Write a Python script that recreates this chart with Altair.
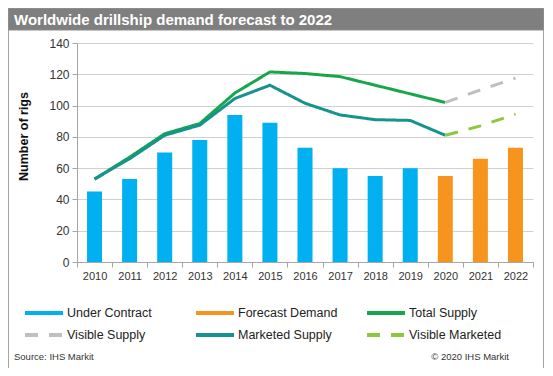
import altair as alt
import pandas as pd

# ---- data ----
years = ["2010", "2011", "2012", "2013", "2014", "2015", "2016",
         "2017", "2018", "2019", "2020", "2021", "2022"]

contract_years = ["2010", "2011", "2012", "2013", "2014", "2015", "2016",
                  "2017", "2018", "2019"]
under_contract = [45, 53, 70, 78, 94, 89, 73, 60, 55, 60]

forecast_years = ["2020", "2021", "2022"]
forecast_demand = [55, 66, 73]

supply_years = ["2010", "2011", "2012", "2013", "2014", "2015", "2016",
                "2017", "2018", "2019", "2020"]
total_supply = [53, 67, 82, 88.5, 108, 121.5, 120.5, 118.5, 113, 107.5, 102]
marketed_supply = [53, 66, 81, 87.5, 104.5, 113, 101.5, 94, 91, 90.5, 81]

visible_years = ["2020", "2021", "2022"]
visible_supply = [102, 110, 117.5]
visible_marketed = [81, 87, 94.5]

series_names = ["Under Contract", "Forecast Demand", "Total Supply",
                "Visible Supply", "Marketed Supply", "Visible Marketed"]
series_colors = ["#00b0f0", "#f7941d", "#17a74b", "#bfbfbf", "#16928f", "#8dc63f"]
series_dashes = [[1, 0], [1, 0], [1, 0], [13, 11], [1, 0], [13, 11]]

y_ticks = [0, 20, 40, 60, 80, 100, 120, 140]

# legend grid (layout only): 3 columns x 2 rows, row-major
legend_cols = [0, 1, 2, 0, 1, 2]
legend_rows = [0, 0, 0, 1, 1, 1]

# ---- tables ----
bar_df = pd.concat([
    pd.DataFrame({"year": contract_years, "value": under_contract, "series": "Under Contract"}),
    pd.DataFrame({"year": forecast_years, "value": forecast_demand, "series": "Forecast Demand"}),
])
line_df = pd.concat([
    pd.DataFrame({"year": supply_years, "value": total_supply, "series": "Total Supply"}),
    pd.DataFrame({"year": visible_years, "value": visible_supply, "series": "Visible Supply"}),
    pd.DataFrame({"year": supply_years, "value": marketed_supply, "series": "Marketed Supply"}),
    pd.DataFrame({"year": visible_years, "value": visible_marketed, "series": "Visible Marketed"}),
])
leg_df = pd.DataFrame({"series": series_names, "col": legend_cols, "row": legend_rows})
leg_df["lx"] = -52 + leg_df["col"] * 171
leg_df["lx2"] = leg_df["lx"] + 38
leg_df["tx"] = leg_df["lx"] + 42
leg_df["ly"] = 270 + leg_df["row"] * 22
one = pd.DataFrame({"k": [0]})

FONT = "Liberation Sans"
GRID = "#d0d0d0"
AXC = "#a6a6a6"

color_scale = alt.Scale(domain=series_names, range=series_colors)
dash_scale = alt.Scale(domain=series_names, range=series_dashes)
x_scale = alt.Scale(domain=years, paddingInner=0, paddingOuter=0)
y_scale = alt.Scale(domain=[0, 140])

x_axis = alt.Axis(labelAngle=0, tickBand="extent", tickSize=5, tickColor=AXC,
                  domainColor=AXC, labelFontSize=11, labelPadding=3,
                  labelColor="#333333", grid=False, title=None)
y_axis = alt.Axis(values=y_ticks, grid=True, gridColor=GRID, tickSize=5,
                  tickColor=AXC, domainColor=AXC, labelFontSize=12,
                  labelPadding=3, labelColor="#333333",
                  title="Number of rigs", titleFontSize=12.5, titleFontWeight="bold",
                  titleColor="#111111", titleX=-54, titleY=93,
                  titleAlign="center", titleBaseline="middle")

frame = alt.Chart(one).mark_rect(fillOpacity=0, stroke="#a6a6a6", strokeWidth=1).encode(
    x=alt.value(-68.5), x2=alt.value(466.5), y=alt.value(-34.5), y2=alt.value(325.5))
title_bar = alt.Chart(one).mark_rect(fill="#7f7f7f", stroke="#8c8c8c", strokeWidth=1).encode(
    x=alt.value(-68.5), x2=alt.value(466.5), y=alt.value(-34.5), y2=alt.value(-13))
title_text = alt.Chart(one).mark_text(
    text="Worldwide drillship demand forecast to 2022", font=FONT, fontSize=15,
    fontWeight="bold", color="white", align="left", baseline="alphabetic").encode(
    x=alt.value(-63), y=alt.value(-18.5))

bars = alt.Chart(bar_df).mark_bar(size=15).encode(
    x=alt.X("year:O", scale=x_scale, axis=x_axis),
    y=alt.Y("value:Q", scale=y_scale, axis=y_axis),
    color=alt.Color("series:N", scale=color_scale, legend=None),
)

lines = alt.Chart(line_df).mark_line(strokeWidth=3).encode(
    x=alt.X("year:O", scale=x_scale, axis=x_axis),
    y=alt.Y("value:Q", scale=y_scale, axis=y_axis),
    color=alt.Color("series:N", scale=color_scale, legend=None),
    strokeDash=alt.StrokeDash("series:N", scale=dash_scale, legend=None),
)

leg_sym = alt.Chart(leg_df).mark_rule(strokeWidth=4).encode(
    x=alt.X("lx:Q", scale=None, axis=None),
    x2="lx2:Q",
    y=alt.Y("ly:Q", scale=None, axis=None),
    color=alt.Color("series:N", scale=color_scale, legend=None),
    strokeDash=alt.StrokeDash("series:N", scale=dash_scale, legend=None),
)
leg_txt = alt.Chart(leg_df).mark_text(
    font=FONT, fontSize=12.5, color="#222222", align="left", baseline="middle").encode(
    x=alt.X("tx:Q", scale=None, axis=None),
    y=alt.Y("ly:Q", scale=None, axis=None),
    text="series:N",
)

src_left = alt.Chart(one).mark_text(
    text="Source: IHS Markit", font=FONT, fontSize=9.5, color="#333333",
    align="left", baseline="alphabetic").encode(x=alt.value(-63), y=alt.value(317))
src_right = alt.Chart(one).mark_text(
    text="© 2020 IHS Markit", font=FONT, fontSize=9.5, color="#333333",
    align="right", baseline="alphabetic").encode(x=alt.value(432), y=alt.value(317))

chart = alt.layer(frame, title_bar, title_text, bars, lines, leg_sym, leg_txt,
                  src_left, src_right).properties(
    width=456, height=219,
    padding={"left": 69, "top": 35, "right": 11, "bottom": 106},
    autosize=alt.AutoSizeParams(type="none"),
).configure(font=FONT).configure_view(strokeWidth=0)

chart.save("out.html", embed_options={"renderer": "svg", "actions": False})
